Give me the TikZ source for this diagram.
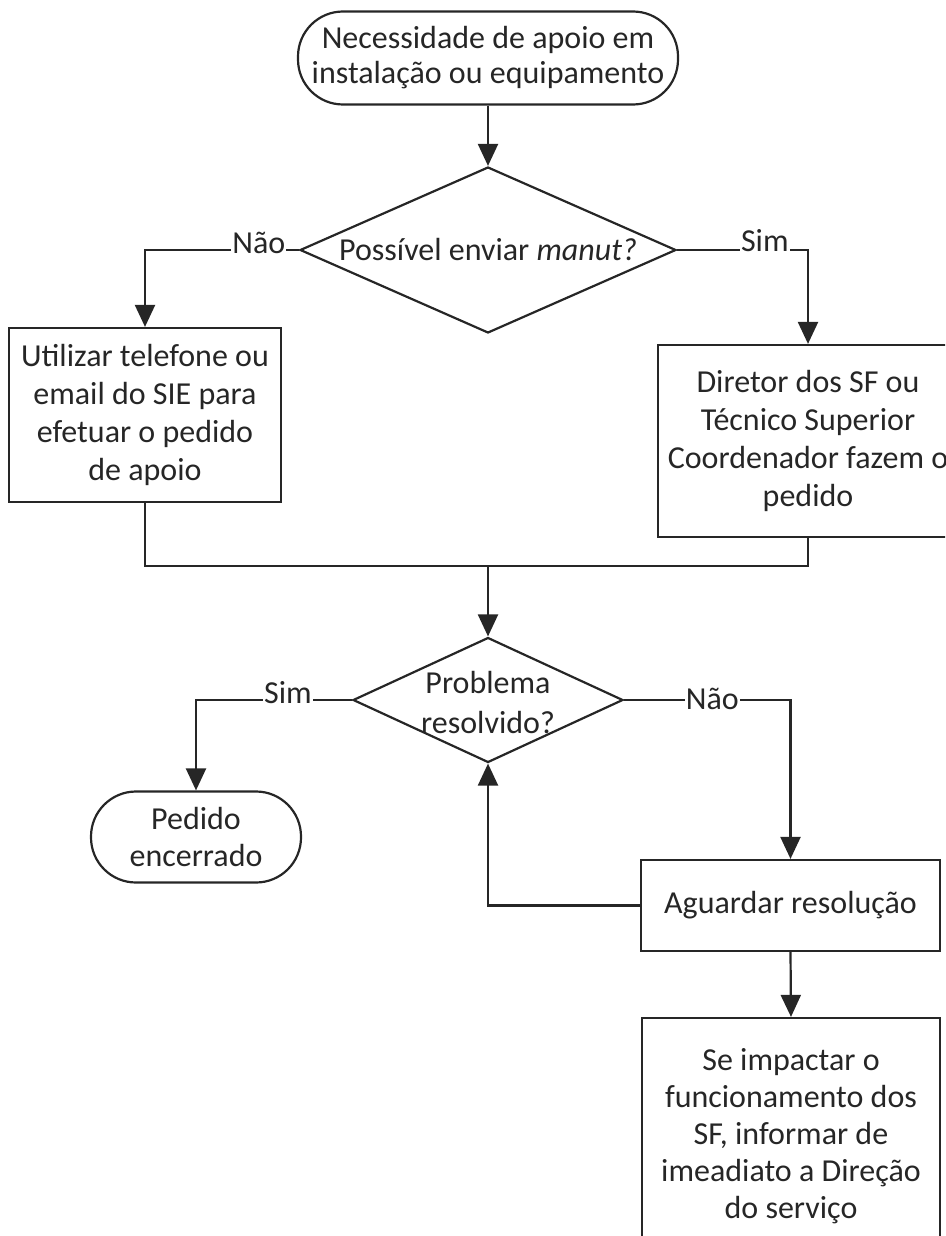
\documentclass[tikz,border=0pt]{standalone}
\usepackage{fontspec}
\setmainfont{Carlito}
\usetikzlibrary{shapes.geometric,arrows.meta}
\begin{document}
\begin{tikzpicture}[x=1pt,y=-1pt,
  every node/.style={text=black!85, font=\fontsize{32}{38}\selectfont, align=center},
  outline/.style={draw=black!85, line width=2.2pt},
  terminal/.style={outline, rounded corners=45pt, inner sep=0pt},
  process/.style={outline, inner sep=0pt},
  decision/.style={outline, diamond, inner sep=0pt},
  link/.style={draw=black!85, line width=2.2pt},
  conn/.style={link, -{Triangle[length=22pt,width=20pt]}},
  lbl/.style={fill=white, inner sep=1pt}]

\useasboundingbox (0,0) rectangle (945,1236);
\clip (0,0) rectangle (945,1236);

% nodes
\node[terminal, minimum width=380pt, minimum height=93pt, font=\fontsize{32}{35}\selectfont]
  (start) at (488,58) {Necessidade de apoio em\\instalação ou equipamento};

\node[decision, minimum width=376pt, minimum height=166pt] (d1) at (488,250) {};
\node (q1) at (d1.center) {Possível enviar \textit{manut?}};

\node[process, minimum width=272pt, minimum height=174pt] (ph) at (145,415)
  {Utilizar telefone ou\\email do SIE para\\efetuar o pedido\\de apoio};
\node[process, minimum width=300pt, minimum height=192pt] (dir) at (808,441)
  {Diretor dos SF ou\\Técnico Superior\\Coordenador fazem o\\pedido};

\coordinate (m) at (488,566);

\node[decision, minimum width=270pt, minimum height=125pt] (d2) at (488,700) {};
\node[font=\fontsize{32}{40}\selectfont] (q2) at (488,702) {Problema\\resolvido?};

\node[terminal, minimum width=210pt, minimum height=91pt, font=\fontsize{32}{37}\selectfont]
  (end) at (196,837) {Pedido\\encerrado};
\node[process, minimum width=299pt, minimum height=91pt] (wait) at (790.5,905.5)
  {Aguardar resolução};
\node[process, minimum width=298pt, minimum height=236pt, font=\fontsize{32}{37}\selectfont]
  (inf) at (791,1136)
  {Se impactar o\\funcionamento dos\\SF, informar de\\imeadiato a Direção\\do serviço};

% connectors
\draw[conn] (start.south) -- (d1.north);
\draw[conn] (d1.west) -- node[lbl, pos=0.26, yshift=7pt] (l1) {Não}
  (d1.west -| ph.north) -- (ph.north);
\draw[conn] (d1.east) -- node[lbl, pos=0.67, yshift=9pt] (l2) {Sim}
  (d1.east -| dir.north) -- (dir.north);
\draw[link] (ph.south) -- (ph.south |- m) -- (dir.south |- m) -- (dir.south);
\draw[conn] (m) -- (d2.north);
\draw[conn] (d2.west) -- node[lbl, pos=0.41, yshift=7pt] (l3) {Sim}
  (d2.west -| end.north) -- (end.north);
\draw[conn] (d2.east) -- node[lbl, pos=0.53, yshift=1pt] (l4) {Não}
  (d2.east -| wait.north) -- (wait.north);
\draw[conn] (wait.west) -- (wait.west -| d2.south) -- (d2.south);
\draw[conn] (wait.south) -- (inf.north);
\end{tikzpicture}
\end{document}
